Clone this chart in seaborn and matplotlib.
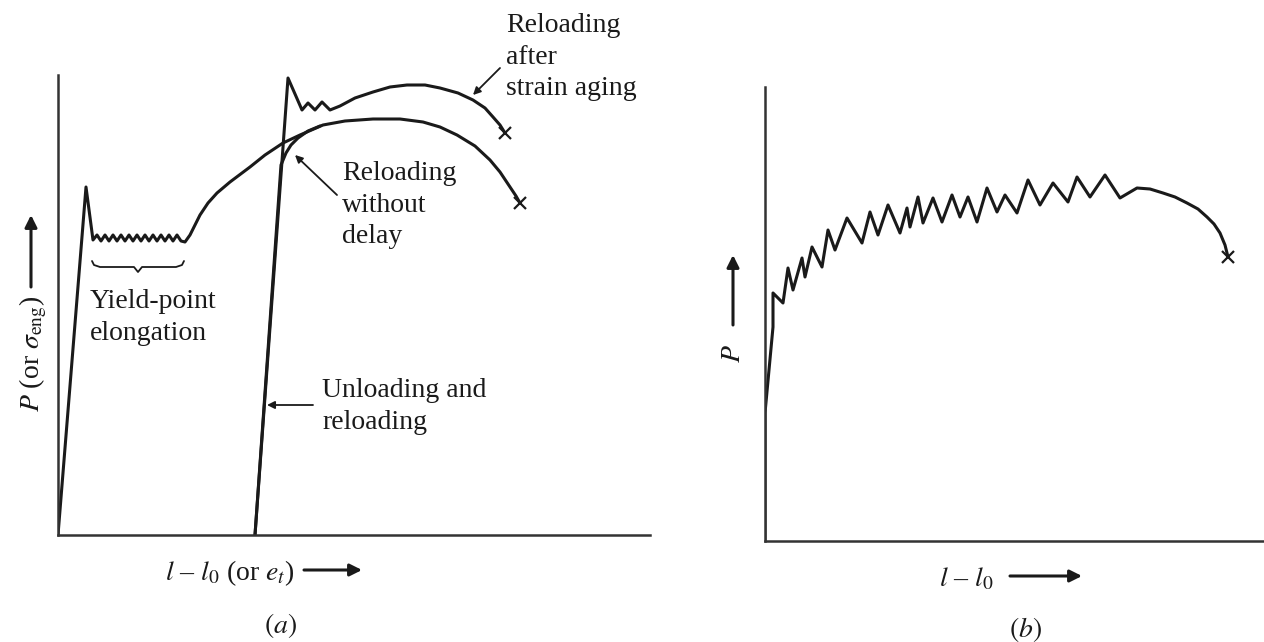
import numpy as np
import pandas as pd
import seaborn as sns
import matplotlib.pyplot as plt

# ---- panel (a): yield point and strain aging (arbitrary units) ----
load_x = [0, 28, 35]
load_y = [0, 348, 295]

yield_x = [39, 43, 47, 51, 55, 59, 63, 67, 71, 75, 79, 83, 87, 91, 95, 99, 103, 107, 111, 115, 119, 123, 127]
yield_y = [300, 294, 300, 294, 300, 294, 300, 294, 300, 294, 300, 294, 300, 294, 300, 294, 300, 294, 300, 294, 300, 294, 293]

harden_x = [132, 137, 142, 150, 159, 172, 192, 207, 225, 242, 265, 287, 315, 342, 365, 382, 399, 417,
            432, 442, 452, 458, 462]
harden_y = [300, 310, 320, 332, 342, 353, 368, 380, 392, 400, 410, 414, 416, 416, 413, 408, 400, 389,
            375, 363, 348, 339, 332]

reload_x = [197, 223, 228, 233, 240, 250, 262]
reload_y = [0, 370, 382, 390, 397, 404, 409]

aged_x = [197, 230, 244, 250, 257, 264, 272, 282, 297, 315, 332, 349, 367, 382, 400, 415, 427, 435,
          442, 447]
aged_y = [0, 457, 425, 432, 425, 433, 425, 429, 437, 443, 448, 450, 450, 447, 442, 435, 427, 418,
          410, 402]

# ---- panel (b): serrated flow curve ----
serr_x = [0, 0, 8, 8, 18, 23, 28, 37, 40, 47, 57, 63, 70, 82, 97, 105, 113, 123, 135, 142, 145,
          153, 158, 168, 177, 187, 195, 203, 212, 222, 232, 240, 252, 263, 275, 288, 303, 312,
          325, 340, 355, 372, 385, 398, 410, 422, 433, 442, 449, 455, 460, 463]
serr_y = [0, 128, 214, 248, 238, 273, 251, 283, 264, 294, 274, 311, 291, 323, 298, 329, 306, 336,
          308, 333, 314, 344, 318, 343, 319, 346, 324, 344, 319, 353, 329, 346, 328, 361, 336, 358,
          339, 364, 344, 366, 343, 353, 352, 348, 344, 338, 332, 324, 317, 308, 296, 284]

W, H = 1264, 642
sns.set_theme(style="white")
plt.rcParams["font.family"] = ["Liberation Serif", "DejaVu Serif"]
plt.rcParams["mathtext.fontset"] = "stix"

ink = "#1a1a1a"
fs = 20
ls = 1.35

fig = plt.figure(figsize=(W / 100, H / 100), dpi=100)


def fp(x, y):
    return (x / W, 1 - y / H)


ax_a = fig.add_axes([58 / W, 107 / H, 600 / W, 475 / H])
ax_b = fig.add_axes([765 / W, 101 / H, 499 / W, 460 / H])

curves_a = pd.concat([
    pd.DataFrame({"x": load_x + yield_x + harden_x, "y": load_y + yield_y + harden_y, "seg": "first"}),
    pd.DataFrame({"x": reload_x, "y": reload_y, "seg": "reload"}),
    pd.DataFrame({"x": aged_x, "y": aged_y, "seg": "aged"}),
])
for seg, d in curves_a.groupby("seg", sort=False):
    sns.lineplot(data=d, x="x", y="y", sort=False, estimator=None, color=ink, lw=2.2,
                 solid_joinstyle="round", ax=ax_a)

# fracture crosses
ax_a.plot(harden_x[-1], harden_y[-1], marker="x", ms=9, mew=1.6, color=ink)
ax_a.plot(aged_x[-1], aged_y[-1], marker="x", ms=9, mew=1.6, color=ink)

sns.lineplot(x=serr_x, y=serr_y, sort=False, estimator=None, color=ink, lw=2.2,
             solid_joinstyle="round", ax=ax_b)
ax_b.plot(serr_x[-1], serr_y[-1], marker="x", ms=9, mew=1.6, color=ink)

for ax, xmax, ymax, ytop in [(ax_a, 600, 475, 460), (ax_b, 499, 460, 454)]:
    ax.set_xlim(0, xmax)
    ax.set_ylim(0, ymax)
    ax.set_xticks([])
    ax.set_yticks([])
    ax.set_xlabel("")
    ax.set_ylabel("")
    ax.patch.set_alpha(0)
    for s in ["top", "right"]:
        ax.spines[s].set_visible(False)
    for s in ["left", "bottom"]:
        ax.spines[s].set_color("#333333")
        ax.spines[s].set_linewidth(1.8)
    ax.spines["left"].set_bounds(0, ytop)
ax_a.spines["bottom"].set_bounds(0, 592)

# brace under the yield-point serrations
bx0, bx1 = yield_x[0] - 5, yield_x[-1] - 1
bm = (bx0 + bx1) / 2
brace_x = [bx0, bx0 + 2, bx0 + 8, bm - 4, bm, bm + 4, bx1 - 8, bx1 - 2, bx1]
brace_y = [274, 270, 268, 268, 263, 268, 268, 270, 274]
ax_a.plot(brace_x, brace_y, color=ink, lw=1.3)

small_arrow = dict(arrowstyle="-|>", color=ink, lw=1.3, mutation_scale=11, shrinkA=0, shrinkB=0)
ax_a.text(448, 522, "Reloading\nafter\nstrain aging", fontsize=fs, color=ink, va="top", ha="left",
          linespacing=ls, clip_on=False)
ax_a.annotate("", xy=(415, 440), xytext=(442, 467), arrowprops=small_arrow, annotation_clip=False)

ax_a.text(284, 374, "Reloading\nwithout\ndelay", fontsize=fs, color=ink, va="top", ha="left", linespacing=ls)
ax_a.annotate("", xy=(237, 380), xytext=(279, 340), arrowprops=small_arrow)

ax_a.text(264, 157, "Unloading and\nreloading", fontsize=fs, color=ink, va="top", ha="left", linespacing=ls)
ax_a.annotate("", xy=(209, 130), xytext=(255, 130), arrowprops=small_arrow)

ax_a.text(32, 246, "Yield-point\nelongation", fontsize=fs, color=ink, va="top", ha="left", linespacing=ls)

# axis labels with long arrows
big_arrow = dict(arrowstyle="-|>", color=ink, lw=2.2, mutation_scale=18, shrinkA=0, shrinkB=0)
fig.text(*fp(33, 354), r"$P$ (or $\sigma_{\rm eng}$)", fontsize=fs, color=ink, rotation=90,
         ha="center", va="center")
ax_a.annotate("", xy=fp(31, 215), xytext=fp(31, 287), xycoords="figure fraction",
              textcoords="figure fraction", arrowprops=big_arrow, annotation_clip=False)
fig.text(*fp(294, 573), r"$l$ – $l_0$ (or $e_t$)", fontsize=fs, color=ink, ha="right", va="center")
ax_a.annotate("", xy=fp(362, 570), xytext=fp(304, 570), xycoords="figure fraction",
              textcoords="figure fraction", arrowprops=big_arrow, annotation_clip=False)
fig.text(*fp(281, 626), r"$(a)$", fontsize=fs, color=ink, ha="center", va="center")

fig.text(*fp(734, 354), r"$P$", fontsize=fs, color=ink, rotation=90, ha="center", va="center")
ax_b.annotate("", xy=fp(733, 255), xytext=fp(733, 325), xycoords="figure fraction",
              textcoords="figure fraction", arrowprops=big_arrow, annotation_clip=False)
fig.text(*fp(966, 579), r"$l$ – $l_0$", fontsize=fs, color=ink, ha="center", va="center")
ax_b.annotate("", xy=fp(1082, 576), xytext=fp(1010, 576), xycoords="figure fraction",
              textcoords="figure fraction", arrowprops=big_arrow, annotation_clip=False)
fig.text(*fp(1025, 630), r"$(b)$", fontsize=fs, color=ink, ha="center", va="center")

fig.savefig("out.png", dpi=100)
